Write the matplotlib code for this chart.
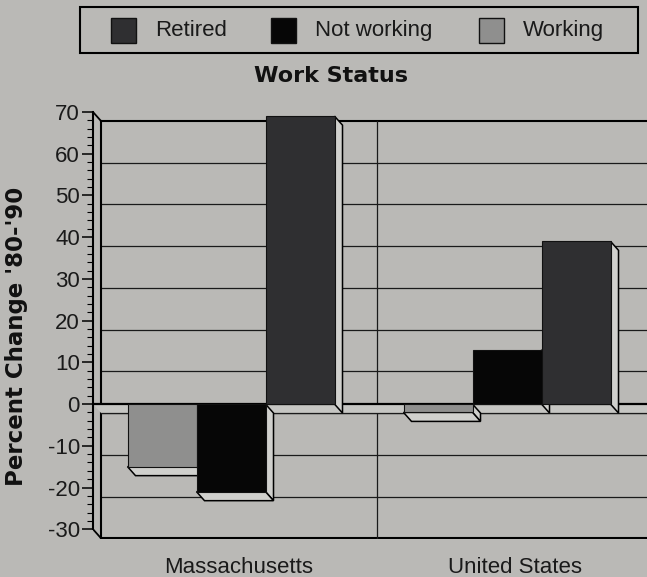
import matplotlib
matplotlib.use("Agg")
import matplotlib.pyplot as plt
from matplotlib.patches import Rectangle, Polygon
import numpy as np

# ---- data ----
regions = ["Massachusetts", "United States"]
series = ["Working", "Not working", "Retired"]
working = [-15, -2]
not_working = [-21, 13]
retired = [69, 39]
legend_order = ["Retired", "Not working", "Working"]
y_ticks = list(range(-30, 80, 10))

# ---- style ----
BG = "#bab9b6"
FACE_LIGHT = "#d0d0cd"
FLOOR = "#c6c6c3"
colors = {"Working": "#8f8f8e", "Not working": "#060606", "Retired": "#2f2f31"}
W, H = 647, 577

fig = plt.figure(figsize=(W / 100, H / 100), dpi=100, facecolor=BG)

def fx(px):
    return px / W

def fy(py):
    return 1 - py / H

# axes: left 93px, right 647px, top 112px, bottom 539px
ax = fig.add_axes([fx(93), fy(539), fx(647) - fx(93), (539 - 112) / H])
ax.set_facecolor(BG)
x_lo, x_hi = -0.5, 1.5072
y_lo, y_hi = -32.34, 70
ax.set_xlim(x_lo, x_hi)
ax.set_ylim(y_lo, y_hi)

# depth offset in data units
dx = 8 / 276
dy = -9 / 4.175

# back wall frame & gridlines
for v in y_ticks[1:-1]:
    ax.plot([x_lo + dx, x_hi], [v + dy, v + dy], color="#1a1a1a", lw=0.9, zorder=1)
ax.plot([x_lo + dx, x_hi], [70 + dy, 70 + dy], color="black", lw=1.5, zorder=1)
ax.plot([x_lo + dx, x_hi], [-30 + dy, -30 + dy], color="black", lw=1.5, zorder=1)
ax.plot([x_lo + dx, x_lo + dx], [-30 + dy, 70 + dy], color="black", lw=1.5, zorder=1)
ax.plot([0.5 + dx, 0.5 + dx], [-30 + dy, 70 + dy], color="#1a1a1a", lw=0.9, zorder=1)
# connectors from front axis to back wall
ax.plot([x_lo, x_lo + dx], [70, 70 + dy], color="black", lw=1.3, zorder=1)
ax.plot([x_lo, x_lo + dx], [-30, -30 + dy], color="black", lw=1.3, zorder=1)

# floor at zero
ax.add_patch(Polygon([(x_lo, 0), (x_hi, 0), (x_hi, dy), (x_lo + dx, dy)],
                     closed=True, facecolor=FLOOR, edgecolor="none", zorder=1.5))
ax.plot([x_lo + dx, x_hi], [dy, dy], color="#1a1a1a", lw=0.9, zorder=1.6)
ax.plot([x_lo, x_hi], [0, 0], color="black", lw=1.6, zorder=1.6)

# bars
w = 0.25
vals = {"Working": working, "Not working": not_working, "Retired": retired}
offsets = {"Working": -w, "Not working": 0.0, "Retired": w}
xs = np.arange(len(regions))
for s in series:
    for i, v in enumerate(vals[s]):
        xc = xs[i] + offsets[s]
        x0, x1 = xc - w / 2, xc + w / 2
        # right side face
        ax.add_patch(Polygon([(x1, 0), (x1, v), (x1 + dx, v + dy), (x1 + dx, dy)],
                             closed=True, facecolor=FACE_LIGHT, edgecolor="black",
                             lw=1.1, zorder=2))
        if v < 0:
            ax.add_patch(Polygon([(x0, v), (x1, v), (x1 + dx, v + dy), (x0 + dx, v + dy)],
                                 closed=True, facecolor=FACE_LIGHT, edgecolor="black",
                                 lw=1.1, zorder=2))
    ax.bar(xs + offsets[s], vals[s], width=w, color=colors[s],
           edgecolor="#111111", linewidth=0.8, zorder=3)

# spines & ticks
for sp in ["top", "right", "bottom"]:
    ax.spines[sp].set_visible(False)
ax.spines["left"].set_bounds(-30, 70)
ax.spines["left"].set_linewidth(1.5)
ax.spines["left"].set_zorder(4)
ax.set_yticks(y_ticks)
ax.set_yticklabels([str(t) for t in y_ticks], fontsize=16, family="Liberation Sans",
                   color="#1a1a1a")
ax.set_yticks(np.arange(-30, 71, 2), minor=True)
ax.tick_params(axis="y", which="major", length=8, width=1.1, direction="out", pad=1.5)
ax.tick_params(axis="y", which="minor", length=4, width=0.8, direction="out")
ax.set_xticks(xs + dx)
ax.set_xticklabels(regions, fontsize=16, family="Liberation Sans", color="#1a1a1a")
ax.tick_params(axis="x", length=0, pad=13)

# y label
fig.text(fx(17), fy(336), "Percent Change '80-'90", rotation=90, ha="center", va="center",
         fontsize=16.5, fontweight="bold", family="DejaVu Sans", color="#111111")

# title
fig.text(fx(331), fy(76), "Work Status", ha="center", va="center",
         fontsize=16, fontweight="bold", family="DejaVu Sans", color="#111111")

# legend (manual)
fig.patches.append(Rectangle((fx(80), fy(53)), fx(638) - fx(80), (53 - 7) / H,
                             transform=fig.transFigure, facecolor="none",
                             edgecolor="black", lw=1.5))
leg_marker_x = {"Retired": 111, "Not working": 271, "Working": 479}
leg_text_x = {"Retired": 155, "Not working": 315, "Working": 523}
for name in legend_order:
    mx = leg_marker_x[name]
    fig.patches.append(Rectangle((fx(mx), fy(43)), 25 / W, 25 / H,
                                 transform=fig.transFigure, facecolor=colors[name],
                                 edgecolor="#111111", lw=1.0))
    fig.text(fx(leg_text_x[name]), fy(30.5), name, ha="left", va="center",
             fontsize=16, family="Liberation Sans", color="#1a1a1a")

fig.savefig("out.png", dpi=100, facecolor=BG)
